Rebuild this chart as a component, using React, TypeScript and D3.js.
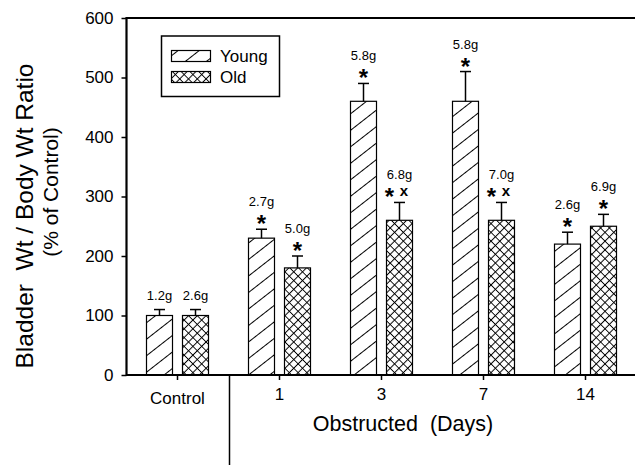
import React, { FC, useEffect, useRef } from "react"
import { axisBottom, axisLeft, scaleBand, scaleLinear, select } from "d3"

const categories = ["Control", "1", "3", "7", "14"]
const groups = ["Young", "Old"]
const youngMean = [100, 230, 460, 460, 220]
const youngErr = [10, 15, 30, 50, 20]
const oldMean = [100, 180, 260, 260, 250]
const oldErr = [10, 20, 30, 30, 20]
const youngWeight = ["1.2g", "2.7g", "5.8g", "5.8g", "2.6g"]
const oldWeight = ["2.6g", "5.0g", "6.8g", "7.0g", "6.9g"]
const youngSig = ["", "*", "*", "*", "*"]
const oldSig = ["", "*", "*x", "*x", "*"]
const yTicks = [0, 100, 200, 300, 400, 500, 600]

type Bar = {
  cat: string
  group: string
  mean: number
  err: number
  weight: string
  sig: string
}

const FONT = "'Liberation Sans', Arial, Helvetica, sans-serif"

const App: FC = () => {
  const ref = useRef<SVGSVGElement>(null)

  useEffect(() => {
    const el = ref.current
    if (!el) return
    const svg = select(el)
    svg.selectAll("*").remove()

    const width = 635
    const height = 465
    const left = 126.5
    const top = 18
    const bottom = 375

    const x = scaleBand<string>().domain(categories).range([left, left + 510])
    const x1 = scaleBand<string>()
      .domain(groups)
      .range([-31, 31])
      .paddingInner(0.2778)
    const y = scaleLinear().domain([0, 600]).range([bottom, top])

    const bars: Bar[] = [
      ...categories.map((cat, i) => ({
        cat,
        group: "Young",
        mean: youngMean[i],
        err: youngErr[i],
        weight: youngWeight[i],
        sig: youngSig[i],
      })),
      ...categories.map((cat, i) => ({
        cat,
        group: "Old",
        mean: oldMean[i],
        err: oldErr[i],
        weight: oldWeight[i],
        sig: oldSig[i],
      })),
    ]

    // patterns
    const defs = svg.append("defs")
    const young = defs
      .append("pattern")
      .attr("id", "hatchYoung")
      .attr("patternUnits", "userSpaceOnUse")
      .attr("width", 13)
      .attr("height", 13)
      .attr("patternTransform", "rotate(-38)")
    young.append("rect").attr("width", 13).attr("height", 13).attr("fill", "white")
    young
      .append("line")
      .attr("x1", 0)
      .attr("x2", 13)
      .attr("y1", 6.5)
      .attr("y2", 6.5)
      .attr("stroke", "black")
      .attr("stroke-width", 1)

    const old = defs
      .append("pattern")
      .attr("id", "hatchOld")
      .attr("patternUnits", "userSpaceOnUse")
      .attr("width", 6.2)
      .attr("height", 6.2)
      .attr("patternTransform", "rotate(45)")
    old.append("rect").attr("width", 6.2).attr("height", 6.2).attr("fill", "white")
    old
      .append("path")
      .attr("d", "M0,3.1H6.2M3.1,0V6.2")
      .attr("stroke", "black")
      .attr("stroke-width", 1)

    const fillOf = (g: string) => (g === "Young" ? "url(#hatchYoung)" : "url(#hatchOld)")
    const cx = (d: Bar) => (x(d.cat) ?? 0) + x.bandwidth() / 2 + (x1(d.group) ?? 0) + x1.bandwidth() / 2

    // bars
    svg
      .append("g")
      .selectAll("rect")
      .data(bars)
      .join("rect")
      .attr("x", (d) => cx(d) - x1.bandwidth() / 2)
      .attr("y", (d) => y(d.mean))
      .attr("width", x1.bandwidth())
      .attr("height", (d) => y(0) - y(d.mean))
      .attr("fill", (d) => fillOf(d.group))
      .attr("stroke", "black")
      .attr("stroke-width", 1.2)

    // error bars
    const eb = svg.append("g").attr("stroke", "black").attr("stroke-width", 1.5)
    eb.selectAll(".v")
      .data(bars)
      .join("line")
      .attr("x1", cx)
      .attr("x2", cx)
      .attr("y1", (d) => y(d.mean))
      .attr("y2", (d) => y(d.mean + d.err))
    eb.selectAll(".c")
      .data(bars)
      .join("line")
      .attr("x1", (d) => cx(d) - 5.5)
      .attr("x2", (d) => cx(d) + 5.5)
      .attr("y1", (d) => y(d.mean + d.err))
      .attr("y2", (d) => y(d.mean + d.err))

    // annotations
    const ann = svg.append("g").attr("font-family", FONT).attr("fill", "black")
    const starY = (d: Bar) => y(d.mean + d.err) - 10
    const weightY = (d: Bar) => (d.sig ? starY(d) - 13 : y(d.mean + d.err) - 10)

    ann
      .selectAll(".w")
      .data(bars)
      .join("text")
      .attr("x", cx)
      .attr("y", weightY)
      .attr("text-anchor", "middle")
      .attr("font-size", 13)
      .text((d) => d.weight)

    const sigBars = bars.filter((d) => d.sig)
    ann
      .selectAll(".s")
      .data(sigBars)
      .join("text")
      .attr("x", (d) => (d.sig.includes("x") ? cx(d) - 10 : cx(d)))
      .attr("y", (d) => starY(d) + 13)
      .attr("text-anchor", "middle")
      .attr("font-size", 24)
      .attr("font-weight", "bold")
      .text("*")
    ann
      .selectAll(".x")
      .data(sigBars.filter((d) => d.sig.includes("x")))
      .join("text")
      .attr("x", (d) => cx(d) + 4.5)
      .attr("y", (d) => starY(d) + 4)
      .attr("text-anchor", "middle")
      .attr("font-size", 15)
      .attr("font-weight", "bold")
      .text("x")

    // axes
    const yAxis = svg
      .append("g")
      .attr("transform", `translate(${left},0)`)
      .call(axisLeft(y).tickValues(yTicks).tickSize(5).tickPadding(8))
    yAxis.select(".domain").remove()
    yAxis.selectAll("line").attr("stroke-width", 1.5)
    yAxis.selectAll("text").attr("font-size", 17).attr("font-family", FONT).attr("fill", "black")

    const xAxis = svg
      .append("g")
      .attr("transform", `translate(0,${bottom})`)
      .call(axisBottom(x).tickSize(5).tickPadding(8))
    xAxis.select(".domain").remove()
    xAxis.selectAll("line").attr("stroke-width", 1.5)
    xAxis.selectAll("text").attr("font-size", 17).attr("font-family", FONT).attr("fill", "black")
    xAxis
      .selectAll<SVGTextElement, string>("text")
      .filter((d) => d === "Control")
      .attr("y", 17)

    // frame
    const frame = svg.append("g").attr("stroke", "black").attr("stroke-width", 2.2)
    frame.append("line").attr("x1", left).attr("x2", left).attr("y1", top - 1).attr("y2", bottom + 1)
    frame.append("line").attr("x1", left).attr("x2", width).attr("y1", top).attr("y2", top)
    frame.append("line").attr("x1", left).attr("x2", width).attr("y1", bottom).attr("y2", bottom)

    // divider between control and obstructed
    const divX = ((x("Control") ?? 0) + x.bandwidth() + (x("1") ?? 0)) / 2 + 1
    svg
      .append("line")
      .attr("x1", divX)
      .attr("x2", divX)
      .attr("y1", bottom)
      .attr("y2", height)
      .attr("stroke", "black")
      .attr("stroke-width", 1.5)

    // titles
    svg
      .append("text")
      .attr("x", 403)
      .attr("y", 431)
      .attr("text-anchor", "middle")
      .attr("font-family", FONT)
      .attr("font-size", 21.5)
      .attr("xml:space", "preserve")
      .text("Obstructed  (Days)")

    svg
      .append("text")
      .attr("transform", "translate(33,216) rotate(-90)")
      .attr("text-anchor", "middle")
      .attr("font-family", FONT)
      .attr("font-size", 24.5)
      .attr("xml:space", "preserve")
      .text("Bladder  Wt / Body Wt Ratio")

    svg
      .append("text")
      .attr("transform", "translate(58,192) rotate(-90)")
      .attr("text-anchor", "middle")
      .attr("font-family", FONT)
      .attr("font-size", 21)
      .text("(% of Control)")

    // legend
    const lg = svg.append("g")
    lg.append("rect")
      .attr("x", 161.5)
      .attr("y", 36)
      .attr("width", 118)
      .attr("height", 60.5)
      .attr("fill", "white")
      .attr("stroke", "black")
      .attr("stroke-width", 1.5)
    groups.forEach((g, i) => {
      lg.append("rect")
        .attr("x", 171.5)
        .attr("y", 50.5 + i * 21)
        .attr("width", 39)
        .attr("height", 11)
        .attr("fill", fillOf(g))
        .attr("stroke", "black")
        .attr("stroke-width", 1.2)
      lg.append("text")
        .attr("x", 220)
        .attr("y", 62 + i * 21)
        .attr("font-family", FONT)
        .attr("font-size", 17)
        .text(g)
    })
  }, [])

  return (
    <svg
      ref={ref}
      width={635}
      height={465}
      style={{ position: "absolute", left: 0, top: 0, background: "white" }}
    />
  )
}

export default App
